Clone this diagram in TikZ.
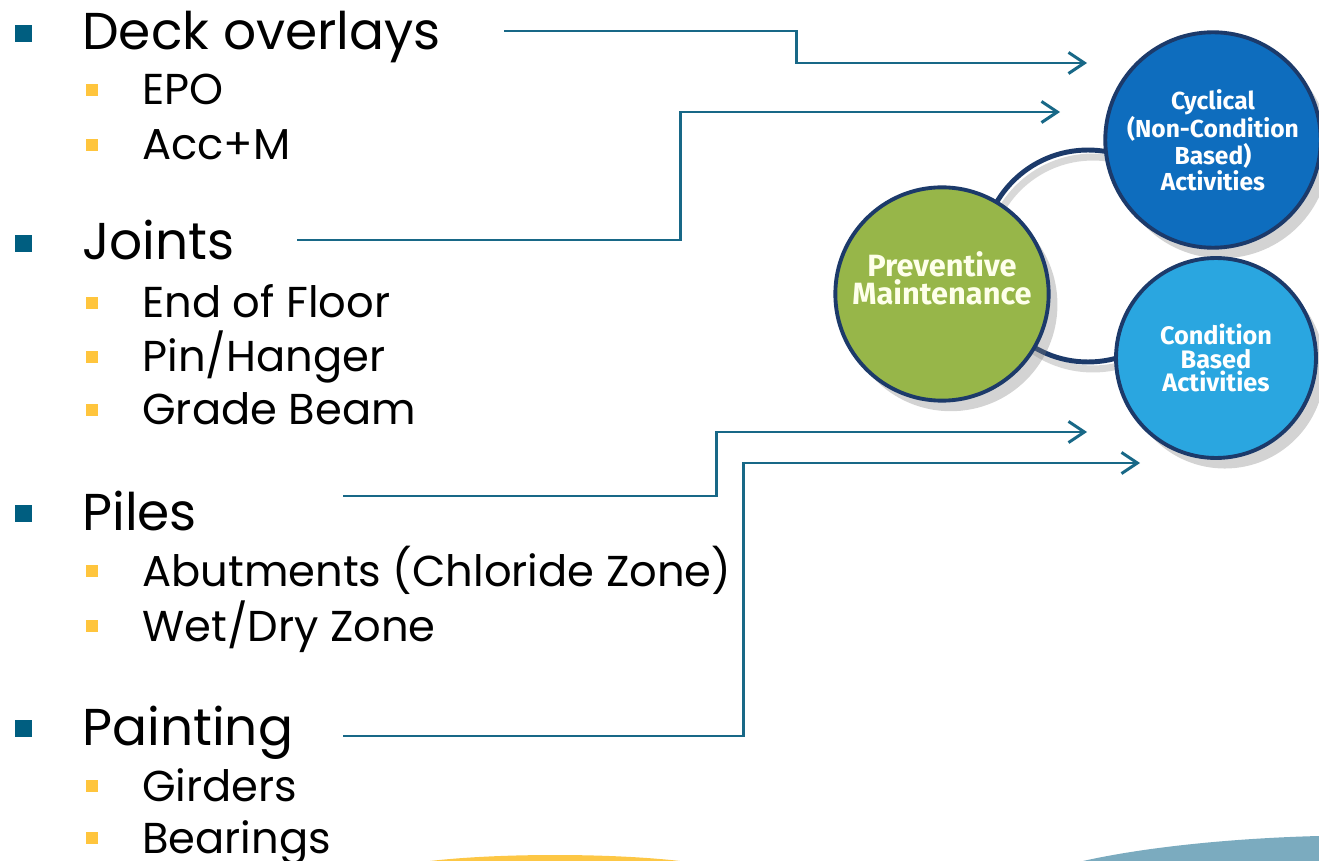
\documentclass[tikz,border=0pt]{standalone}
\usepackage{fontspec}
\setmainfont{Poppins}
\newfontfamily\circfont{Fira Sans}
\usetikzlibrary{arrows.meta}
\usetikzlibrary{shadows}
\definecolor{flowcol}{RGB}{24,104,135}
\definecolor{mainbul}{RGB}{0,94,128}
\definecolor{subbul}{RGB}{255,197,61}
\definecolor{ringcol}{RGB}{28,58,106}
\definecolor{pmgreen}{RGB}{151,182,73}
\definecolor{cycblue}{RGB}{14,109,190}
\definecolor{condblue}{RGB}{42,166,224}
\definecolor{swoosh}{RGB}{123,171,191}
\definecolor{swoyel}{RGB}{253,193,49}

\begin{document}
\begin{tikzpicture}[x=0.02cm,y=-0.02cm,
    flow/.style={draw=flowcol,line width=1.7pt,-{Straight Barb[length=9pt,width=12pt]}},
    item/.style={anchor=base west,inner sep=0pt,font=\fontsize{29.5}{34}\selectfont},
    subitem/.style={anchor=base west,inner sep=0pt,font=\fontsize{24.6}{29}\selectfont},
    bubble/.style={circle,minimum size=4cm,draw=ringcol,line width=2.2pt,text=white,align=center,
        drop shadow={shadow xshift=5pt,shadow yshift=-6pt,opacity=0.35,fill=gray}}]
    \useasboundingbox (0,0) rectangle (1319,861);
    % bottom decoration
    \fill[swoyel,opacity=0.9] (430,861) .. controls (500,853) and (610,853) .. (680,861) -- cycle;
    \fill[swoosh] (1083,861) .. controls (1150,846) and (1240,838) .. (1319,836) -- (1319,861) -- cycle;
    % bullet list
    \foreach \y in {50,260,530,745}
        \fill[mainbul] (15,\y-25) rectangle (32,\y-8);
    \foreach \y in {105,160,318,372,425,586,641,801,853}
        \fill[subbul] (86,\y-21) rectangle (98,\y-9);
    \node[item] (deck) at (82,50) {Deck overlays};
    \node[subitem] (epo) at (142,105) {EPO};
    \node[subitem] (accm) at (142,160) {Acc+M};
    \node[item] (joints) at (82,260) {Joints};
    \node[subitem] (endfloor) at (142,318) {End of Floor};
    \node[subitem] (pinhanger) at (142,372) {Pin/Hanger};
    \node[subitem] (gradebeam) at (142,425) {Grade Beam};
    \node[item] (piles) at (82,530) {Piles};
    \node[subitem] (abut) at (142,586) {Abutments (Chloride Zone)};
    \node[subitem] (wetdry) at (142,641) {Wet/Dry Zone};
    \node[item] (painting) at (82,745) {Painting};
    \node[subitem] (girders) at (142,801) {Girders};
    \node[subitem] (bearings) at (142,853) {Bearings};
    % ring and circles
    \begin{scope}
        \clip (0,0) rectangle (1160,861);
        \draw[gray!60,line width=4pt,opacity=0.5] (1093,263) circle[radius=2.12cm];
        \draw[ringcol,line width=2.8pt] (1088,256) circle[radius=2.12cm];
    \end{scope}
    \node[bubble,fill=pmgreen,text=green!5!yellow!8,font=\circfont\bfseries\fontsize{17.5}{16}\selectfont] (pm) at (942,294) {Preventive\\Maintenance\\[2pt]};
    \node[bubble,fill=cycblue,font=\circfont\bfseries\fontsize{14}{12.8}\selectfont] (cyc) at (1213,140) {Cyclical\\(Non-Condition\\Based)\\Activities};
    \node[bubble,fill=condblue,font=\circfont\bfseries\fontsize{14.4}{13.6}\selectfont] (cond) at (1216,358) {Condition\\Based\\Activities};
    % connectors
    \coordinate (s1) at (504,31);
    \coordinate (s2) at (297,240);
    \coordinate (s3) at (343,496);
    \coordinate (s4) at (343,736);
    \coordinate (e1) at (1087,63);
    \coordinate (e2) at (1060,112);
    \coordinate (e3) at (1087,432);
    \coordinate (e4) at (1140,463);
    \draw[flow] (s1) -- ++(292,0) |- (e1);
    \draw[flow] (s2) -- ++(383,0) |- (e2);
    \draw[flow] (s3) -- ++(373,0) |- (e3);
    \draw[flow] (s4) -- ++(400,0) |- (e4);
\end{tikzpicture}
\end{document}
